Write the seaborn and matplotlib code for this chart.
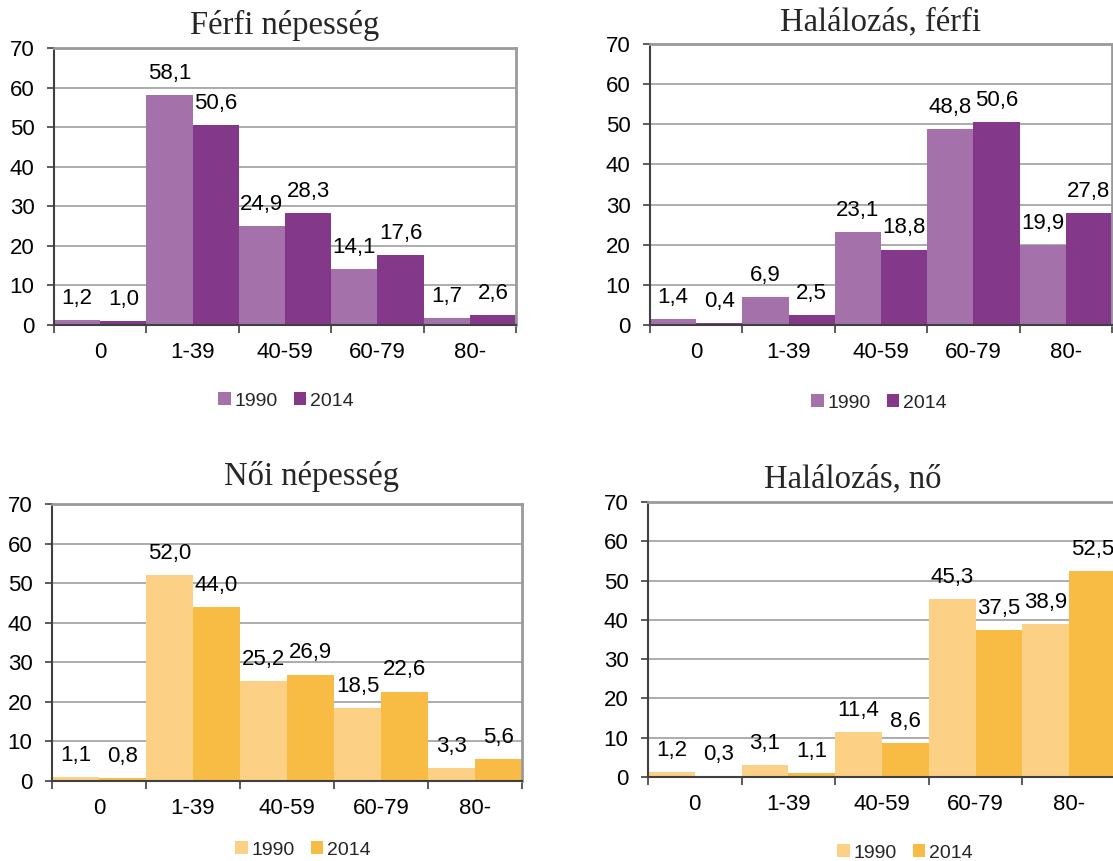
import matplotlib
matplotlib.use("Agg")
import matplotlib.pyplot as plt
from matplotlib.patches import Patch
import seaborn as sns
import pandas as pd

# Age groups and years
ages = ["0", "1-39", "40-59", "60-79", "80-"]
years = ["1990", "2014"]

# Distribution (%) by age group
ferfi_nep_1990 = [1.2, 58.1, 24.9, 14.1, 1.7]
ferfi_nep_2014 = [1.0, 50.6, 28.3, 17.6, 2.6]
hal_ferfi_1990 = [1.4, 6.9, 23.1, 48.8, 19.9]
hal_ferfi_2014 = [0.4, 2.5, 18.8, 50.6, 27.8]
noi_nep_1990 = [1.1, 52.0, 25.2, 18.5, 3.3]
noi_nep_2014 = [0.8, 44.0, 26.9, 22.6, 5.6]
hal_no_1990 = [1.2, 3.1, 11.4, 45.3, 38.9]
hal_no_2014 = [0.3, 1.1, 8.6, 37.5, 52.5]

titles = ["Férfi népesség", "Halálozás, férfi", "Női népesség", "Halálozás, nő"]

purple = ["#A471AA", "#84388A"]
orange = ["#FDD185", "#F8BC45"]

sns.set_theme(style="white")
plt.rcParams["font.family"] = ["Liberation Sans", "DejaVu Sans"]

W, H = 1113, 861
fig = plt.figure(figsize=(W / 100, H / 100), dpi=100)


def px_axes(x0, y0, x1, y1):
    return fig.add_axes([x0 / W, 1 - y1 / H, (x1 - x0) / W, (y1 - y0) / H])


panels = [
    # (axes box px, data 1990, data 2014, colors, title pos, legend pos)
    ((54, 48, 516, 325), ferfi_nep_1990, ferfi_nep_2014, purple, (285, 34), (286, 401)),
    ((650, 44, 1112, 325), hal_ferfi_1990, hal_ferfi_2014, purple, (881, 30), (879, 403)),
    ((52, 504, 522, 781), noi_nep_1990, noi_nep_2014, orange, (311, 485), (303, 850)),
    ((648, 502, 1116, 777), hal_no_1990, hal_no_2014, orange, (853, 487), (905, 853)),
]

for (box, v90, v14, cols, tpos, lpos), title in zip(panels, titles):
    ax = px_axes(*box)
    df = pd.DataFrame({
        "age": ages * 2,
        "year": [years[0]] * len(ages) + [years[1]] * len(ages),
        "value": v90 + v14,
    })
    sns.barplot(data=df, x="age", y="value", hue="year", order=ages,
                hue_order=years, palette=cols, width=1.0, saturation=1,
                linewidth=0, legend=False, ax=ax)
    for cont in ax.containers:
        labels = [f"{b.get_height():.1f}".replace(".", ",") for b in cont]
        ax.bar_label(cont, labels=labels, padding=8, fontsize=16,
                     color="black", clip_on=False)

    ax.set_xlim(-0.5, 4.5)
    ax.set_ylim(0, 70)
    ax.set_yticks(range(0, 71, 10))
    ax.set_xlabel("")
    ax.set_ylabel("")
    ax.set_axisbelow(True)
    ax.yaxis.grid(True, color="#A6A6A6", linewidth=1.3)
    ax.xaxis.grid(False)

    # category boundary ticks on the x axis
    ax.set_xticks([i - 0.5 for i in range(len(ages) + 1)], minor=True)
    ax.tick_params(axis="x", which="major", length=0, pad=12, labelsize=16,
                   colors="black")
    ax.tick_params(axis="x", which="minor", length=6, width=1.2,
                   color="#404040", direction="out", bottom=True)
    ax.tick_params(axis="y", which="major", length=5, width=1.2,
                   color="#404040", direction="out", left=True, pad=9,
                   labelsize=16, labelcolor="black")

    for side in ("left", "bottom"):
        ax.spines[side].set_color("#404040")
        ax.spines[side].set_linewidth(1.5)
    for side in ("top", "right"):
        ax.spines[side].set_color("#9A9A9A")
        ax.spines[side].set_linewidth(2)
    for s in ax.spines.values():
        s.set_visible(True)

    fig.text(tpos[0] / W, 1 - tpos[1] / H, title, ha="center", va="baseline",
             fontsize=23.5, family=["Liberation Serif", "DejaVu Serif"])

    handles = [Patch(facecolor=c, edgecolor="none") for c in cols]
    fig.legend(handles, years, loc="center",
               bbox_to_anchor=(lpos[0] / W, 1 - lpos[1] / H), ncol=2,
               frameon=False, fontsize=14, handlelength=0.65, handleheight=0.65,
               handletextpad=0.2, columnspacing=0.8, borderpad=0)

fig.savefig("out.png", dpi=100)
